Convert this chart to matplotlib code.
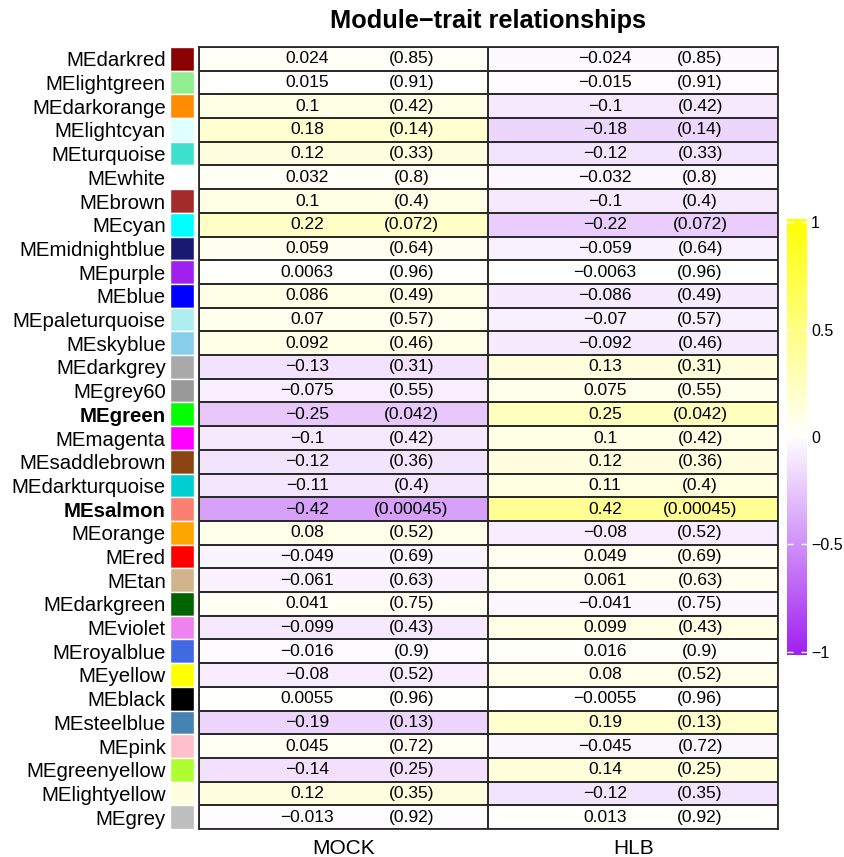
import numpy as np
import matplotlib
matplotlib.use("Agg")
import matplotlib.pyplot as plt
from matplotlib.colors import LinearSegmentedColormap

plt.rcParams['font.family'] = ['Liberation Sans', 'DejaVu Sans']

# module eigengenes (top to bottom)
modules = ["MEdarkred", "MElightgreen", "MEdarkorange", "MElightcyan", "MEturquoise",
           "MEwhite", "MEbrown", "MEcyan", "MEmidnightblue", "MEpurple", "MEblue",
           "MEpaleturquoise", "MEskyblue", "MEdarkgrey", "MEgrey60", "MEgreen",
           "MEmagenta", "MEsaddlebrown", "MEdarkturquoise", "MEsalmon", "MEorange",
           "MEred", "MEtan", "MEdarkgreen", "MEviolet", "MEroyalblue", "MEyellow",
           "MEblack", "MEsteelblue", "MEpink", "MEgreenyellow", "MElightyellow", "MEgrey"]
traits = ["MOCK", "HLB"]

cor_mock = [0.024, 0.015, 0.1, 0.18, 0.12, 0.032, 0.1, 0.22, 0.059, 0.0063, 0.086,
            0.07, 0.092, -0.13, -0.075, -0.25, -0.1, -0.12, -0.11, -0.42, 0.08,
            -0.049, -0.061, 0.041, -0.099, -0.016, -0.08, 0.0055, -0.19, 0.045,
            -0.14, 0.12, -0.013]
cor_hlb = [-0.024, -0.015, -0.1, -0.18, -0.12, -0.032, -0.1, -0.22, -0.059, -0.0063, -0.086,
           -0.07, -0.092, 0.13, 0.075, 0.25, 0.1, 0.12, 0.11, 0.42, -0.08,
           0.049, 0.061, -0.041, 0.099, 0.016, 0.08, -0.0055, 0.19, -0.045,
           0.14, -0.12, 0.013]
pval = [0.85, 0.91, 0.42, 0.14, 0.33, 0.8, 0.4, 0.072, 0.64, 0.96, 0.49, 0.57, 0.46,
        0.31, 0.55, 0.042, 0.42, 0.36, 0.4, 0.00045, 0.52, 0.69, 0.63, 0.75, 0.43,
        0.9, 0.52, 0.96, 0.13, 0.72, 0.25, 0.35, 0.92]

# R colour names used by the modules
rcolors = {
    "darkred": "#8B0000", "lightgreen": "#90EE90", "darkorange": "#FF8C00",
    "lightcyan": "#E0FFFF", "turquoise": "#40E0D0", "white": "#FFFFFF",
    "brown": "#A52A2A", "cyan": "#00FFFF", "midnightblue": "#191970",
    "purple": "#A020F0", "blue": "#0000FF", "paleturquoise": "#AFEEEE",
    "skyblue": "#87CEEB", "darkgrey": "#A9A9A9", "grey60": "#999999",
    "green": "#00FF00", "magenta": "#FF00FF", "saddlebrown": "#8B4513",
    "darkturquoise": "#00CED1", "salmon": "#FA8072", "orange": "#FFA500",
    "red": "#FF0000", "tan": "#D2B48C", "darkgreen": "#006400", "violet": "#EE82EE",
    "royalblue": "#4169E1", "yellow": "#FFFF00", "black": "#000000",
    "steelblue": "#4682B4", "pink": "#FFC0CB", "greenyellow": "#ADFF2F",
    "lightyellow": "#FFFFE0", "grey": "#BEBEBE",
}

cmap = LinearSegmentedColormap.from_list("pwy", ["#A020F0", "#FFFFFF", "#FFFF00"])

n = len(modules)
W, H = 845, 857
fig = plt.figure(figsize=(W / 100, H / 100), dpi=100)

top, bottom = 47, 829
left, right = 199, 778


def fx(px):
    return px / W


def fy(py):
    return 1 - py / H


# heatmap
ax = fig.add_axes([fx(left), fy(bottom), fx(right - left), (bottom - top) / H])
mat = np.column_stack([cor_mock, cor_hlb])
ax.pcolormesh(mat, cmap=cmap, vmin=-1, vmax=1, edgecolors="#2b2b2b", linewidth=1.3)
ax.set_xlim(0, 2)
ax.set_ylim(n, 0)
for s in ax.spines.values():
    s.set_linewidth(1.3)
    s.set_color("#2b2b2b")

def fmt(v):
    return "{:.2g}".format(v).replace("-", "\u2212")

val_x = [0.374, 1.403]
p_x = [0.734, 1.731]
for j, col in enumerate([cor_mock, cor_hlb]):
    for i in range(n):
        ax.text(val_x[j], i + 0.5, fmt(col[i]), ha="center", va="center", fontsize=12.5)
        ax.text(p_x[j], i + 0.5, "(" + fmt(pval[i]) + ")", ha="center", va="center",
                fontsize=12.5)

ax.set_yticks([])
ax.set_xticks([0.5, 1.5])
ax.set_xticklabels(traits, fontsize=15)
ax.tick_params(axis="x", length=0, pad=7)

# module colour swatches with labels
axs = fig.add_axes([fx(170), fy(bottom), fx(24), (bottom - top) / H])
sw_colors = [rcolors[m[2:]] for m in modules]
axs.barh(np.arange(n) + 0.5, 1, height=1, color=sw_colors, edgecolor="white", linewidth=1)
axs.set_xlim(0, 1)
axs.set_ylim(n, 0)
axs.set_xticks([])
axs.set_yticks(np.arange(n) + 0.5)
axs.set_yticklabels(modules, fontsize=14.7)
axs.tick_params(axis="y", length=0, pad=3)
for lab, p in zip(axs.get_yticklabels(), pval):
    if p < 0.05:
        lab.set_fontweight("bold")
for s in axs.spines.values():
    s.set_visible(False)

# colour bar
cax = fig.add_axes([fx(787), fy(655), fx(20), (655 - 219) / H])
grad = np.linspace(-1, 1, 256)[:, None]
cax.imshow(grad, cmap=cmap, vmin=-1, vmax=1, origin="lower", aspect="auto",
           extent=[0, 1, -1.015, 1.015])
cax.set_xlim(0, 1)
cax.set_ylim(-1.015, 1.015)
cax.set_xticks([])
ticks = [-1, -0.5, 0, 0.5, 1]
cax.set_yticks(ticks)
cax.set_yticklabels([fmt(t) for t in ticks], fontsize=11.5)
cax.tick_params(axis="y", left=True, right=True, labelleft=False, labelright=True,
                direction="in", color="white", length=4, width=1, pad=3)
for s in cax.spines.values():
    s.set_visible(False)

fig.text(fx(488.5), fy(21), "Module\u2212trait relationships", ha="center", va="center",
         fontsize=18.3, fontweight="bold")

fig.savefig("out.png", dpi=100, facecolor="white")
